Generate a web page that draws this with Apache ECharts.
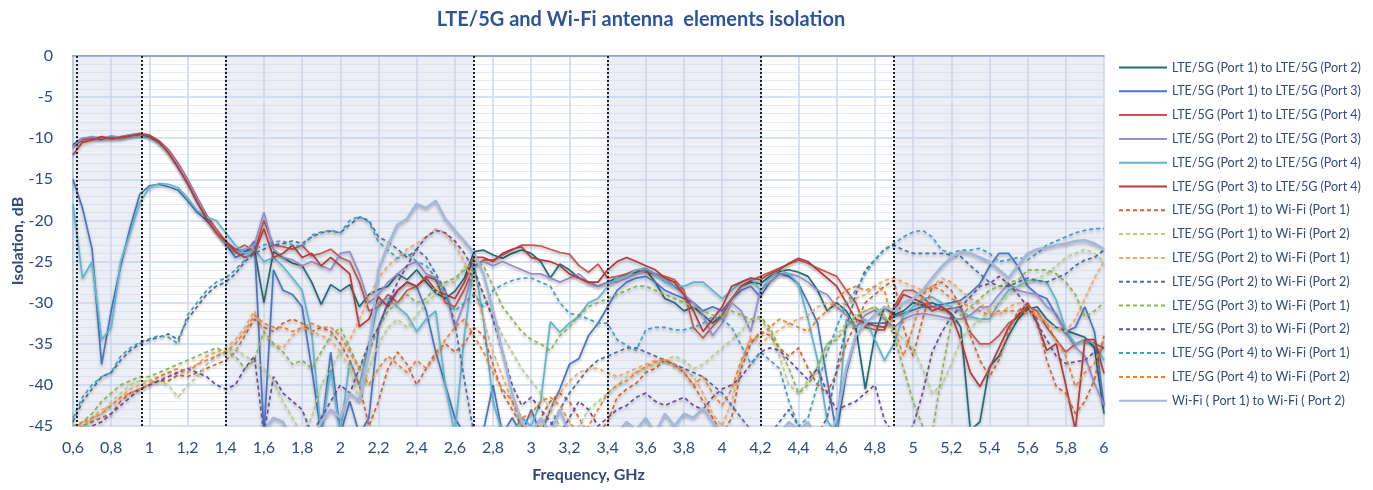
<!DOCTYPE html>
<html>
<head>
<meta charset="utf-8">
<script src="https://cdn.jsdelivr.net/npm/echarts@6/dist/echarts.min.js"></script>
<style>
html,body{margin:0;padding:0;background:#fff;}
#chart{width:1373px;height:490px;}
</style>
</head>
<body>
<div id="chart"></div>
<script>
// Frequency grid (GHz)
const freq = [
0.6,0.65,0.7,0.75,0.8,0.85,0.9,0.95,
1,1.05,1.1,1.15,1.2,1.25,1.3,1.35,
1.4,1.45,1.5,1.55,1.6,1.65,1.7,1.75,
1.8,1.85,1.9,1.95,2,2.05,2.1,2.15,
2.2,2.25,2.3,2.35,2.4,2.45,2.5,2.55,
2.6,2.65,2.7,2.75,2.8,2.85,2.9,2.95,
3,3.05,3.1,3.15,3.2,3.25,3.3,3.35,
3.4,3.45,3.5,3.55,3.6,3.65,3.7,3.75,
3.8,3.85,3.9,3.95,4,4.05,4.1,4.15,
4.2,4.25,4.3,4.35,4.4,4.45,4.5,4.55,
4.6,4.65,4.7,4.75,4.8,4.85,4.9,4.95,
5,5.05,5.1,5.15,5.2,5.25,5.3,5.35,
5.4,5.45,5.5,5.55,5.6,5.65,5.7,5.75,
5.8,5.85,5.9,5.95,6];

const lte12 = [
-10.8,-10.0,-9.9,-10.1,-9.8,-9.9,-9.7,-9.5,
-9.8,-10.5,-11.6,-13.3,-15.2,-17.4,-19.4,-21.2,
-22.6,-23.5,-23.8,-23.5,-30.0,-23.8,-24.5,-25.2,
-25.5,-27.5,-30.2,-27.8,-28.6,-27.8,-30.5,-29.0,
-28.4,-28.0,-26.5,-27.2,-26.0,-27.5,-28.8,-29.5,
-28.6,-27.0,-23.8,-23.6,-24.2,-24.6,-24.0,-23.6,
-24.0,-25.0,-27.0,-25.3,-26.0,-27.0,-27.5,-28.0,
-27.5,-27.0,-26.5,-26.3,-26.0,-27.5,-29.5,-30.0,
-31.0,-30.5,-31.5,-32.5,-31.5,-29.5,-28.0,-27.5,
-27.7,-26.8,-26.2,-26.0,-26.3,-26.8,-28.5,-31.0,
-30.0,-31.0,-33.0,-40.5,-34.0,-30.5,-31.5,-31.0,
-30.0,-30.3,-30.0,-30.5,-31.3,-33.0,-45.5,-44.5,
-37.8,-36.5,-34.0,-32.0,-30.8,-30.5,-32.0,-33.0,
-33.4,-33.8,-34.2,-35.5,-43.5];

const lte13 = [
-15.0,-18.5,-23.5,-37.5,-31.0,-25.5,-20.8,-16.8,
-15.8,-15.6,-15.9,-16.3,-17.6,-19.0,-20.0,-21.2,
-22.8,-24.5,-24.0,-22.5,-46.0,-26.0,-28.5,-29.0,
-30.5,-38.0,-46.0,-36.0,-46.0,-42.0,-46.0,-44.0,
-33.0,-30.0,-28.5,-27.5,-28.0,-31.0,-36.0,-40.0,
-44.0,-46.0,-46.0,-45.5,-40.0,-46.0,-44.0,-46.0,
-43.0,-46.0,-43.0,-40.5,-37.5,-36.8,-34.0,-32.5,
-30.5,-28.5,-27.5,-27.0,-26.8,-27.5,-28.5,-29.0,
-29.5,-30.0,-31.0,-30.5,-31.0,-29.5,-28.5,-28.0,
-29.3,-27.5,-26.5,-26.8,-27.7,-30.0,-32.5,-39.4,
-46.0,-38.6,-34.0,-32.5,-32.5,-32.5,-31.7,-31.3,
-30.9,-30.5,-30.5,-30.2,-30.0,-29.7,-28.8,-27.7,
-25.6,-24.0,-24.0,-25.6,-28.0,-29.0,-29.5,-31.5,
-33.5,-33.0,-30.5,-33.5,-42.5];

const lte14 = [
-11.0,-10.2,-10.0,-9.9,-10.0,-9.8,-9.6,-9.4,
-9.6,-10.3,-11.4,-13.0,-15.0,-17.2,-19.4,-21.0,
-22.5,-23.6,-23.0,-23.8,-20.0,-23.0,-23.2,-23.5,
-23.0,-24.3,-24.0,-23.5,-24.5,-25.0,-27.5,-31.0,
-30.5,-29.0,-30.0,-28.5,-28.0,-26.8,-27.2,-30.0,
-30.5,-28.4,-25.6,-24.8,-24.8,-24.2,-23.6,-23.0,
-23.0,-23.1,-23.5,-23.9,-24.1,-25.5,-26.3,-25.3,
-27.0,-26.8,-26.5,-26.0,-26.3,-26.5,-26.8,-27.2,
-28.5,-33.0,-34.3,-32.9,-31.6,-29.5,-28.0,-27.3,
-26.8,-26.3,-25.8,-25.3,-24.8,-25.2,-25.8,-26.3,
-26.8,-28.5,-30.0,-33.0,-33.3,-33.3,-30.5,-28.5,
-28.5,-29.3,-30.5,-30.9,-30.7,-30.5,-33.6,-35.0,
-35.0,-34.0,-32.5,-31.7,-30.5,-31.0,-33.0,-34.5,
-36.0,-35.0,-34.5,-35.0,-35.5];

const lte23 = [
-11.0,-10.0,-9.8,-10.0,-9.7,-9.9,-9.6,-9.5,
-9.7,-10.4,-11.6,-13.2,-15.2,-17.3,-19.6,-21.3,
-22.8,-23.8,-23.5,-23.0,-19.0,-23.5,-24.5,-24.8,
-25.5,-25.0,-25.5,-26.0,-24.0,-23.8,-26.5,-30.0,
-29.0,-27.5,-26.5,-25.5,-25.0,-26.5,-27.0,-28.5,
-33.0,-30.0,-25.5,-25.0,-25.5,-25.0,-25.5,-26.0,
-26.5,-26.5,-27.0,-27.5,-27.0,-26.5,-27.5,-28.0,
-27.5,-27.5,-27.0,-26.5,-26.0,-26.5,-27.0,-28.0,
-29.0,-30.0,-31.5,-34.0,-32.5,-30.0,-31.0,-33.5,
-28.5,-27.5,-26.5,-26.5,-26.8,-27.5,-28.5,-29.0,
-30.5,-31.5,-33.0,-31.5,-30.9,-32.0,-33.0,-32.0,
-31.5,-31.3,-31.5,-31.7,-32.0,-32.0,-31.5,-30.5,
-30.5,-29.0,-27.7,-28.5,-28.8,-29.0,-30.5,-31.3,
-33.6,-35.4,-36.5,-39.8,-42.5];

const lte24 = [
-18.0,-27.0,-25.0,-34.5,-33.0,-25.0,-21.5,-17.8,
-16.0,-15.5,-15.6,-16.0,-17.2,-18.8,-19.6,-20.0,
-21.5,-23.0,-24.0,-23.5,-25.0,-24.5,-25.6,-27.0,
-28.5,-33.6,-46.0,-38.0,-46.0,-37.0,-40.0,-35.0,
-30.0,-29.5,-30.5,-31.5,-33.5,-32.0,-31.0,-40.0,
-46.0,-34.0,-25.0,-32.0,-42.0,-46.0,-46.0,-44.0,
-45.0,-42.0,-32.3,-33.6,-32.5,-31.6,-30.0,-29.5,
-28.0,-27.0,-26.8,-26.0,-25.8,-26.5,-27.5,-28.0,
-28.0,-27.5,-27.5,-28.5,-29.5,-28.5,-27.5,-27.0,
-28.5,-27.0,-26.0,-26.5,-27.7,-32.0,-37.0,-44.3,
-46.0,-32.0,-33.0,-32.0,-34.5,-37.0,-35.0,-31.5,
-30.5,-29.5,-29.3,-30.0,-30.5,-31.0,-31.7,-32.0,
-32.0,-30.0,-28.5,-28.0,-27.3,-27.3,-27.5,-29.7,
-33.3,-35.0,-34.5,-35.0,-37.0];

const lte34 = [
-12.0,-10.5,-10.2,-9.8,-10.1,-9.9,-9.7,-9.5,
-9.7,-10.4,-11.8,-13.6,-15.5,-17.8,-19.8,-21.5,
-22.5,-23.8,-24.5,-24.0,-21.0,-24.5,-24.0,-23.0,
-24.5,-24.0,-25.5,-24.5,-25.5,-26.5,-32.9,-32.0,
-29.3,-30.5,-28.5,-27.5,-28.0,-27.0,-28.5,-29.0,
-29.5,-27.5,-24.5,-24.5,-25.0,-24.0,-23.5,-23.2,
-24.5,-24.8,-25.0,-25.5,-26.5,-27.0,-27.5,-27.5,
-26.0,-25.0,-24.5,-25.0,-25.5,-26.0,-27.0,-27.5,
-29.0,-31.0,-33.5,-32.0,-30.5,-28.0,-27.5,-27.0,
-27.2,-26.5,-26.0,-25.2,-24.6,-25.0,-26.0,-27.0,
-28.0,-30.0,-32.0,-32.5,-32.8,-33.0,-31.0,-29.0,
-29.5,-30.0,-31.0,-30.5,-31.5,-34.5,-38.5,-40.2,
-38.0,-35.5,-33.0,-31.5,-30.0,-32.5,-35.8,-35.0,
-40.0,-45.5,-34.5,-34.5,-38.6];

const lte1wifi1 = [
-46.0,-45.0,-44.5,-44.0,-43.5,-42.0,-41.0,-40.5,
-40.0,-39.5,-39.5,-38.8,-39.0,-38.5,-38.0,-37.5,
-37.0,-36.0,-34.0,-32.0,-33.0,-33.5,-32.5,-32.0,
-32.5,-33.5,-33.0,-33.5,-35.0,-37.0,-40.0,-45.0,
-42.0,-38.0,-36.0,-37.5,-40.0,-38.0,-36.0,-35.0,
-36.0,-35.0,-33.0,-34.0,-37.5,-41.0,-43.0,-45.0,
-46.0,-44.0,-42.0,-41.0,-42.0,-44.0,-46.0,-46.0,
-44.5,-41.5,-40.5,-39.8,-38.5,-38.0,-37.0,-37.5,
-38.5,-40.0,-42.0,-44.0,-46.0,-44.0,-38.0,-35.0,
-33.5,-34.0,-35.5,-36.5,-35.5,-38.0,-40.0,-41.0,
-38.5,-35.0,-32.5,-30.0,-29.0,-28.0,-27.3,-33.0,
-36.5,-32.0,-28.0,-27.5,-28.5,-30.5,-34.0,-37.0,
-39.0,-37.0,-33.5,-31.0,-30.0,-32.0,-37.0,-40.2,
-41.0,-43.5,-42.0,-39.4,-34.0];

const lte1wifi2 = [
-46.0,-45.5,-44.0,-43.5,-42.0,-41.0,-40.0,-39.5,
-39.5,-39.5,-40.0,-41.5,-40.0,-39.0,-37.5,-36.5,
-36.0,-35.5,-36.5,-37.0,-38.0,-39.5,-42.0,-44.0,
-46.0,-44.0,-40.0,-38.0,-36.0,-38.0,-42.0,-38.0,
-35.0,-33.0,-32.0,-33.0,-31.5,-30.0,-29.0,-27.5,
-27.5,-25.6,-26.5,-29.0,-31.5,-34.0,-36.0,-38.0,
-39.5,-41.0,-43.0,-45.0,-46.0,-45.0,-43.0,-42.0,
-41.0,-40.0,-39.0,-38.5,-38.0,-37.5,-37.0,-36.5,
-37.0,-38.0,-37.5,-36.5,-35.5,-34.5,-33.5,-32.0,
-32.0,-33.5,-36.5,-40.0,-41.0,-39.5,-37.8,-35.0,
-34.0,-32.5,-31.5,-31.0,-30.5,-31.5,-33.0,-34.5,
-35.5,-38.0,-41.0,-40.0,-37.5,-34.5,-33.0,-32.0,
-31.0,-30.0,-29.0,-28.0,-27.5,-27.0,-26.5,-25.5,
-24.5,-24.0,-23.5,-24.0,-25.0];

const lte2wifi1 = [
-45.5,-45.0,-44.0,-43.0,-42.5,-41.5,-40.5,-40.0,
-39.5,-39.0,-38.5,-38.5,-38.0,-37.5,-36.5,-36.0,
-35.5,-34.5,-33.0,-31.0,-33.5,-35.0,-35.5,-34.0,
-33.0,-33.5,-34.0,-34.5,-36.0,-34.5,-32.0,-29.5,
-27.0,-25.5,-24.5,-23.5,-22.8,-22.0,-21.0,-21.5,
-23.0,-25.0,-28.0,-32.0,-36.0,-39.0,-42.0,-45.0,
-46.0,-45.0,-43.0,-41.0,-39.5,-38.5,-38.0,-38.0,
-38.5,-39.0,-38.5,-38.0,-37.5,-37.0,-37.0,-37.5,
-38.0,-39.0,-41.0,-43.5,-45.0,-42.0,-37.5,-34.0,
-35.0,-34.0,-33.3,-32.5,-32.0,-31.5,-30.5,-30.0,
-30.5,-30.0,-29.5,-29.0,-28.0,-27.3,-27.0,-27.5,
-28.0,-28.5,-28.0,-27.0,-27.5,-28.5,-29.5,-30.0,
-31.0,-31.5,-30.5,-30.0,-30.5,-31.5,-32.5,-33.0,
-33.5,-32.0,-29.5,-27.0,-25.0];

const lte2wifi2 = [
-44.5,-42.0,-40.5,-39.0,-38.5,-37.0,-35.8,-35.0,
-34.5,-34.2,-33.8,-34.5,-32.0,-30.5,-29.0,-28.0,
-27.5,-26.5,-25.0,-24.0,-23.5,-23.0,-22.8,-22.5,
-22.8,-22.0,-21.5,-21.3,-21.5,-20.5,-19.6,-20.0,
-22.0,-22.6,-23.5,-24.5,-23.5,-24.5,-26.5,-28.5,
-32.5,-39.4,-46.0,-47.0,-47.0,-47.0,-47.0,-47.0,
-47.0,-46.0,-45.0,-43.0,-41.0,-39.5,-38.0,-37.0,
-36.5,-36.0,-35.5,-35.5,-36.0,-36.5,-37.0,-37.5,
-38.0,-38.5,-39.0,-40.0,-41.0,-42.5,-44.0,-45.5,
-46.0,-46.0,-44.5,-43.0,-45.0,-46.0,-46.0,-44.0,
-38.0,-33.0,-29.0,-26.0,-24.8,-23.5,-23.0,-23.6,
-24.0,-24.0,-24.0,-24.0,-24.2,-24.4,-25.5,-26.5,
-27.5,-28.0,-28.0,-27.5,-27.0,-27.3,-27.5,-27.0,
-26.5,-25.5,-24.8,-24.5,-23.6];

const lte3wifi1 = [
-45.0,-44.5,-43.5,-42.0,-41.0,-40.0,-39.5,-39.0,
-39.0,-38.5,-38.0,-37.5,-37.0,-36.5,-36.0,-35.5,
-36.0,-36.5,-38.0,-37.0,-33.5,-35.0,-36.0,-37.5,
-37.0,-38.0,-36.0,-34.0,-33.0,-35.5,-38.0,-36.0,
-33.0,-31.0,-30.0,-29.0,-30.0,-29.5,-28.0,-27.5,
-27.0,-26.0,-25.0,-25.5,-28.0,-30.5,-32.0,-33.5,
-34.5,-35.0,-35.8,-34.0,-33.0,-31.5,-30.5,-30.0,
-29.5,-29.0,-28.5,-28.0,-28.0,-28.5,-29.0,-29.5,
-30.0,-30.5,-31.0,-31.5,-31.6,-31.0,-31.5,-32.0,
-31.7,-33.0,-35.5,-38.0,-41.0,-40.0,-37.8,-35.0,
-34.5,-33.0,-31.7,-31.0,-30.5,-31.5,-34.0,-38.0,
-42.0,-45.0,-46.0,-38.6,-32.5,-31.5,-30.5,-29.5,
-28.5,-28.0,-27.5,-27.3,-26.0,-26.0,-26.0,-26.5,
-27.5,-29.0,-31.7,-31.0,-30.0];

const lte3wifi2 = [
-46.0,-45.5,-45.0,-44.5,-43.5,-42.5,-41.5,-40.5,
-40.0,-39.5,-39.0,-38.5,-38.0,-38.5,-39.0,-40.0,
-40.5,-40.0,-38.0,-36.5,-46.0,-39.0,-41.0,-42.0,
-43.0,-46.0,-44.0,-42.0,-40.0,-41.0,-38.0,-35.0,
-33.0,-30.0,-27.5,-25.5,-23.5,-22.0,-21.2,-21.5,
-22.5,-24.0,-26.0,-29.0,-32.0,-36.0,-40.0,-42.5,
-41.5,-43.0,-44.5,-46.0,-44.0,-42.0,-43.0,-45.0,
-44.0,-43.0,-42.5,-41.5,-41.0,-42.0,-42.5,-42.0,
-41.5,-42.5,-43.0,-41.5,-40.5,-40.0,-39.0,-37.5,
-36.0,-35.5,-35.8,-37.0,-38.2,-39.4,-38.0,-41.0,
-43.0,-42.5,-42.0,-41.0,-40.0,-44.3,-46.0,-46.0,
-45.0,-41.0,-36.0,-33.6,-31.7,-30.5,-29.3,-28.0,
-27.7,-26.8,-27.7,-29.0,-30.5,-32.5,-34.5,-36.5,
-37.4,-37.2,-37.0,-36.0,-35.5];

const lte4wifi1 = [
-44.0,-41.5,-40.0,-39.0,-38.5,-36.5,-35.5,-34.8,
-34.4,-34.0,-34.2,-35.0,-31.5,-30.0,-28.5,-27.5,
-27.0,-26.0,-24.8,-23.5,-23.0,-22.6,-22.5,-23.0,
-23.2,-21.8,-21.4,-21.2,-21.5,-20.0,-19.5,-20.2,
-22.6,-23.6,-24.6,-24.0,-25.0,-25.5,-27.0,-29.0,
-31.0,-30.0,-29.0,-30.5,-28.5,-27.8,-27.3,-27.0,
-27.0,-27.5,-28.0,-30.0,-31.3,-31.5,-32.0,-32.5,
-32.5,-34.5,-35.2,-35.8,-33.3,-33.0,-33.0,-33.3,
-33.3,-33.0,-32.5,-31.7,-32.0,-33.0,-35.2,-37.4,
-36.0,-37.0,-38.0,-42.0,-45.0,-44.0,-40.0,-36.0,
-33.0,-30.0,-28.5,-26.5,-24.8,-23.5,-22.8,-22.0,
-21.4,-21.2,-22.0,-23.6,-24.0,-23.6,-23.6,-23.4,
-24.0,-25.0,-24.8,-24.5,-24.8,-24.0,-23.0,-22.5,
-22.0,-21.5,-21.2,-21.0,-21.0];

const lte4wifi2 = [
-45.5,-44.5,-44.0,-43.5,-42.5,-41.5,-41.0,-40.5,
-40.0,-39.0,-38.5,-38.0,-38.5,-37.5,-37.0,-36.5,
-36.0,-35.0,-33.5,-31.5,-32.5,-33.0,-33.0,-33.5,
-33.0,-32.5,-33.0,-33.0,-34.0,-36.0,-38.0,-40.0,
-38.0,-36.5,-37.5,-38.5,-37.0,-38.0,-36.5,-34.5,
-33.0,-32.0,-34.0,-36.0,-38.5,-40.5,-42.0,-44.0,
-43.5,-42.0,-41.5,-42.5,-44.5,-46.0,-45.0,-43.0,
-41.0,-40.0,-39.5,-38.5,-37.8,-37.2,-36.8,-37.5,
-38.5,-40.0,-39.0,-41.0,-42.5,-40.5,-37.0,-34.5,
-34.0,-33.0,-32.0,-32.5,-33.0,-33.5,-32.0,-31.0,
-29.5,-28.5,-28.0,-28.5,-28.0,-28.5,-33.0,-36.5,
-33.0,-29.0,-28.0,-28.5,-29.5,-30.0,-30.5,-31.0,
-31.5,-31.0,-31.0,-31.0,-31.3,-31.3,-32.5,-34.5,
-36.5,-40.2,-38.5,-37.4,-34.5];

const wifi12 = [
-48,-48,-48,-48,-48,-48,-48,-48,
-48,-48,-48,-48,-48,-48,-48,-48,
-48,-48,-48,-47,-45.5,-44.0,-44.5,-47,
-48,-47,-44.5,-43,-44,-41,-42,-36,
-26.0,-23.0,-20.5,-19.8,-18.0,-18.5,-17.6,-19.8,
-21.2,-22.5,-24.0,-26.5,-31.0,-36.0,-41.0,-44.5,
-46,-44,-46,-43,-46,-47,-47,-47,
-47,-46,-44.5,-45.5,-44,-46,-43.5,-45,
-43.5,-44.0,-42.8,-44.5,-46,-47,-47,-47,
-47,-47,-46,-44.5,-45.5,-44.5,-47,-47,
-44,-38,-34,-32.5,-31.5,-30.5,-31.0,-30.0,
-29.5,-28.5,-27.0,-25.6,-24.5,-23.8,-24.0,-24.5,
-25.0,-26.0,-27.0,-25.5,-24.0,-23.5,-23.3,-23.0,
-22.8,-22.5,-22.4,-22.8,-23.5];

const yTicks = [0,-5,-10,-15,-20,-25,-30,-35,-40,-45];
const bands = [[0.6,0.96],[1.4,2.7],[3.4,4.2],[4.9,6.0]];
const bandEdges = [0.617,0.96,1.4,2.7,3.4,4.2,4.9];

const seriesDefs = [
  {name:'LTE/5G (Port 1) to LTE/5G (Port 2)', data:lte12, color:'#236c79', dash:false},
  {name:'LTE/5G (Port 1) to LTE/5G (Port 3)', data:lte13, color:'#4a76c6', dash:false},
  {name:'LTE/5G (Port 1) to LTE/5G (Port 4)', data:lte14, color:'#c9574d', dash:false},
  {name:'LTE/5G (Port 2) to LTE/5G (Port 3)', data:lte23, color:'#9a8ccc', dash:false},
  {name:'LTE/5G (Port 2) to LTE/5G (Port 4)', data:lte24, color:'#5ab8d4', dash:false},
  {name:'LTE/5G (Port 3) to LTE/5G (Port 4)', data:lte34, color:'#b83a3a', dash:false},
  {name:'LTE/5G (Port 1) to Wi-Fi (Port 1)', data:lte1wifi1, color:'#d4642c', dash:true},
  {name:'LTE/5G (Port 1) to Wi-Fi (Port 2)', data:lte1wifi2, color:'#b6d37f', dash:true},
  {name:'LTE/5G (Port 2) to Wi-Fi (Port 1)', data:lte2wifi1, color:'#f7a860', dash:true},
  {name:'LTE/5G (Port 2) to Wi-Fi (Port 2)', data:lte2wifi2, color:'#4f6f9e', dash:true},
  {name:'LTE/5G (Port 3) to Wi-Fi (Port 1)', data:lte3wifi1, color:'#8db648', dash:true},
  {name:'LTE/5G (Port 3) to Wi-Fi (Port 2)', data:lte3wifi2, color:'#6d4c9c', dash:true},
  {name:'LTE/5G (Port 4) to Wi-Fi (Port 1)', data:lte4wifi1, color:'#3ea1c1', dash:true},
  {name:'LTE/5G (Port 4) to Wi-Fi (Port 2)', data:lte4wifi2, color:'#f2802c', dash:true},
  {name:'Wi-Fi ( Port 1) to Wi-Fi ( Port 2)', data:wifi12, color:'#a3b8de', dash:false, width:2.5}
];

const FONT = 'Lato, "Open Sans", sans-serif';
const TXT = '#2f4b7c';

const series = seriesDefs.map(d => ({
  name: d.name,
  type: 'line',
  symbol: 'none',
  data: freq.map((f, i) => [f, d.data[i]]),
  lineStyle: {
    color: d.color,
    width: d.width || 1.7,
    type: d.dash ? [4, 3] : 'solid',
    shadowColor: 'rgba(0,0,0,0.28)',
    shadowBlur: 3,
    shadowOffsetY: 2
  },
  itemStyle: {color: d.color},
  emphasis: {disabled: true},
  z: 3
}));

series.unshift({
  name: 'bands',
  type: 'line',
  data: [],
  silent: true,
  z: 1,
  markArea: {
    silent: true,
    itemStyle: {color: 'rgba(205,211,230,0.38)'},
    data: bands.map(b => [{xAxis: b[0]}, {xAxis: b[1]}])
  },
  markLine: {
    silent: true,
    symbol: 'none',
    label: {show: false},
    lineStyle: {type: 'dotted', color: '#222', width: 2},
    data: bandEdges.map(x => ({xAxis: x}))
  }
});

const chart = echarts.init(document.getElementById('chart'), null, {renderer: 'canvas'});
chart.setOption({
  backgroundColor: '#fff',
  animation: false,
  title: {
    text: 'LTE/5G and Wi-Fi antenna  elements isolation',
    left: 636, top: 5, textAlign: 'center',
    textStyle: {fontFamily: FONT, fontWeight: 'bold', fontSize: 20, color: '#2f5496'}
  },
  legend: {
    data: seriesDefs.map(d => d.name),
    orient: 'vertical',
    left: 1113, top: 56,
    itemWidth: 48, itemHeight: 14, itemGap: 10.8,
    textStyle: {fontFamily: FONT, fontSize: 12.5, color: TXT, overflow: 'none'},
    itemStyle: {opacity: 0},
    selectedMode: false
  },
  grid: {left: 73, right: 269, top: 56, bottom: 64, containLabel: false, outerBoundsMode: 'none'},
  xAxis: {
    type: 'value', min: 0.6, max: 6, interval: 0.2,
    name: 'Frequency, GHz', nameLocation: 'middle', nameGap: 41,
    nameMoveOverlap: false,
    nameTextStyle: {fontFamily: FONT, fontWeight: 'bold', fontSize: 16, color: TXT},
    axisLine: {lineStyle: {color: '#6f93d0', width: 1.5}},
    axisTick: {show: false},
    axisLabel: {
      fontFamily: FONT, fontSize: 16, color: TXT, margin: 14, showMaxLabel: true,
      formatter: v => String(Math.round(v * 10) / 10).replace('.', ',')
    },
    splitLine: {show: true, lineStyle: {color: '#c8d8f0', width: 1.5}}
  },
  yAxis: {
    type: 'value', min: -45, max: 0, interval: 5,
    name: 'Isolation, dB', nameLocation: 'middle', nameGap: 47,
    nameMoveOverlap: false,
    nameTextStyle: {fontFamily: FONT, fontWeight: 'bold', fontSize: 16, color: TXT},
    axisLine: {show: true, lineStyle: {color: '#b5caea', width: 2}},
    axisTick: {show: false},
    axisLabel: {
      fontFamily: FONT, fontSize: 16, color: TXT, margin: 20,
      formatter: v => (yTicks.indexOf(v) >= 0 ? String(v) : '')
    },
    splitLine: {show: true, lineStyle: {color: '#c8d8f0', width: 1.5}},
    minorTick: {show: false, splitNumber: 5},
    minorSplitLine: {show: true, lineStyle: {color: '#e2eaf6', width: 1}}
  },
  series: series
});
</script>
</body>
</html>
